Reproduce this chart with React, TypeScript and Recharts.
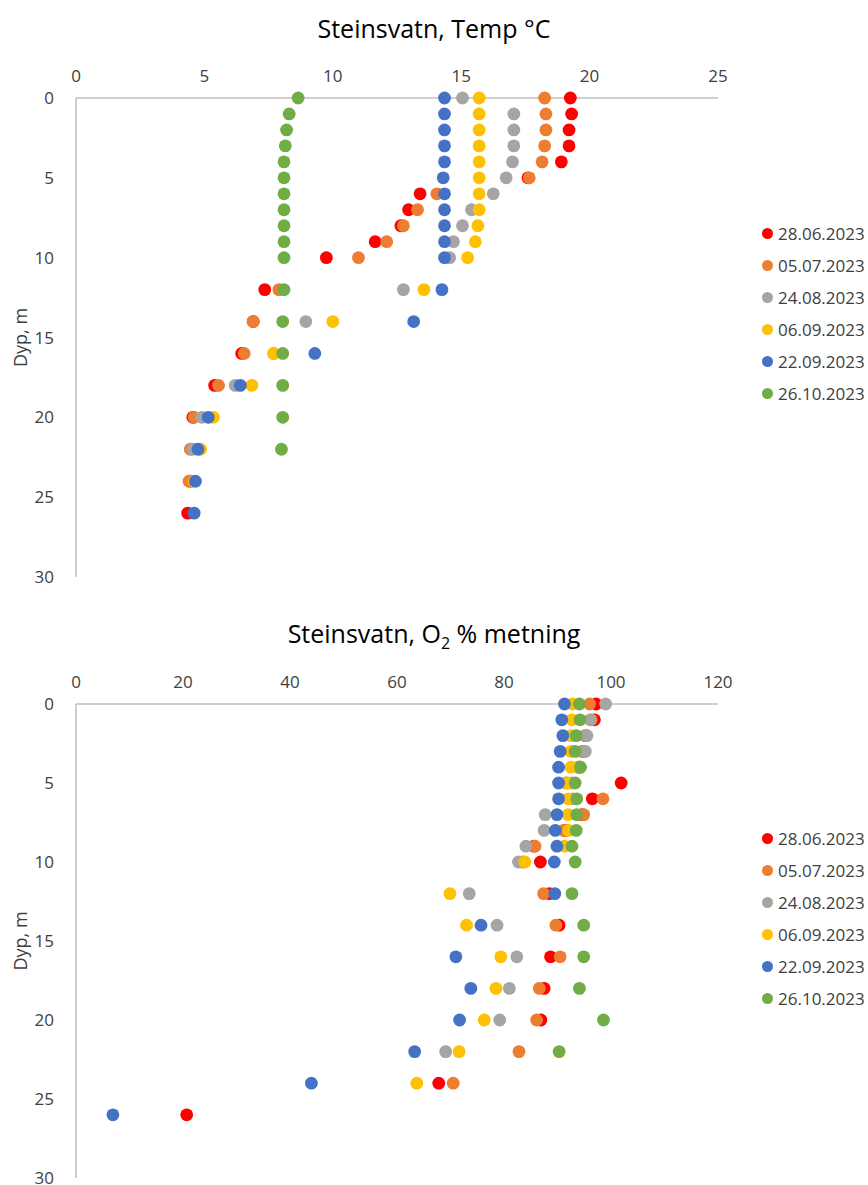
import { ScatterChart, Scatter, XAxis, YAxis, Legend } from 'recharts'

// depths (m) shared by all profiles
const depths = [0, 1, 2, 3, 4, 5, 6, 7, 8, 9, 10, 12, 14, 16, 18, 20, 22, 24, 26]

const dates = ['28.06.2023', '05.07.2023', '24.08.2023', '06.09.2023', '22.09.2023', '26.10.2023']
const colors = ['#FF0000', '#ED7D31', '#A5A5A5', '#FFC000', '#4472C4', '#70AD47']

// temperature, °C
const temp2806 = [19.25, 19.3, 19.2, 19.2, 18.9, 17.6, 13.4, 12.95, 12.65, 11.65, 9.75, 7.35, 6.9, 6.45, 5.4, 4.55, null, 4.45, 4.35]
const temp0507 = [18.25, 18.3, 18.3, 18.25, 18.15, 17.65, 14.05, 13.3, 12.75, 12.1, 11.0, 7.9, 6.9, 6.55, 5.55, 4.6, 4.45, 4.4, null]
const temp2408 = [15.05, 17.05, 17.05, 17.05, 17.0, 16.75, 16.25, 15.4, 15.05, 14.7, 14.55, 12.75, 8.95, 7.7, 6.2, 4.9, 4.55, null, null]
const temp0609 = [15.7, 15.7, 15.7, 15.7, 15.7, 15.7, 15.7, 15.7, 15.65, 15.55, 15.25, 13.55, 10.0, 7.7, 6.85, 5.35, 4.85, 4.6, null]
const temp2209 = [14.35, 14.35, 14.35, 14.35, 14.35, 14.3, 14.35, 14.35, 14.35, 14.35, 14.35, 14.25, 13.15, 9.3, 6.4, 5.15, 4.75, 4.65, 4.6]
const temp2610 = [8.65, 8.3, 8.2, 8.15, 8.1, 8.1, 8.1, 8.1, 8.1, 8.1, 8.1, 8.1, 8.05, 8.05, 8.05, 8.05, 8.0, null, null]

// oxygen saturation, %
const o2_2806 = [97.2, 96.9, 95.3, 94.8, 94.0, 101.9, 96.5, 94.6, 91.4, 85.6, 86.8, 88.5, 90.3, 88.7, 87.5, 86.9, null, 67.8, 20.7]
const o2_0507 = [96.0, 96.3, 95.2, 94.8, 94.0, 91.6, 98.5, 94.9, 91.2, 85.8, 83.5, 87.4, 89.7, 90.5, 86.6, 86.1, 82.8, 70.5, null]
const o2_2408 = [99.0, 96.1, 95.5, 95.2, 94.2, 92.6, 92.8, 87.7, 87.5, 84.1, 82.7, 73.5, 78.7, 82.4, 81.0, 79.2, 69.1, null, null]
const o2_0609 = [92.8, 92.7, 92.5, 92.5, 92.5, 91.9, 92.0, 92.0, 92.1, 91.3, 83.9, 69.9, 73.0, 79.4, 78.5, 76.3, 71.6, 63.7, null]
const o2_2209 = [91.3, 90.8, 91.0, 90.5, 90.2, 90.2, 90.2, 89.9, 89.6, 89.9, 89.4, 89.5, 75.7, 71.0, 73.8, 71.7, 63.3, 44.0, 6.9]
const o2_2610 = [94.1, 94.2, 93.5, 93.3, 94.3, 93.3, 93.6, 93.6, 93.5, 92.7, 93.3, 92.7, 94.9, 94.9, 94.1, 98.6, 90.3, null, null]

const tempTicks = [0, 5, 10, 15, 20, 25]
const o2Ticks = [0, 20, 40, 60, 80, 100, 120]
const depthTicks = [0, 5, 10, 15, 20, 25, 30]

const tempSeries = [temp2806, temp0507, temp2408, temp0609, temp2209, temp2610]
const o2Series = [o2_2806, o2_0507, o2_2408, o2_0609, o2_2209, o2_2610]

const FONT = '"Open Sans", sans-serif'

const toPoints = (vals) =>
  depths.map((d, i) => ({ depth: d, value: vals[i] })).filter(p => p.value != null)

const dot = (color) => (props) => <circle cx={props.cx} cy={props.cy} r={6.4} fill={color} />

// legend keeps the series order (recharts sorts by name otherwise)
const renderLegend = () => (
  <div style={{ fontFamily: FONT }}>
    {dates.map((d, i) => (
      <div key={d} style={{ display: 'flex', alignItems: 'center', height: 32 }}>
        <span style={{ width: 11, height: 11, borderRadius: '50%', background: colors[i], marginRight: 5, flex: 'none' }} />
        <span style={{ fontSize: 17, color: '#404040', whiteSpace: 'nowrap' }}>{d}</span>
      </div>
    ))}
  </div>
)

const depthLabel = ({ viewBox }) => {
  const x = viewBox.x + 10
  const y = viewBox.y + viewBox.height / 2
  return (
    <text x={x} y={y} transform={`rotate(-90, ${x}, ${y})`} textAnchor="middle" dominantBaseline="central"
      fontSize={18} fill="#404040" fontFamily={FONT}>
      Dyp, m
    </text>
  )
}

function Profile({ series, max, ticks, height, marginTop, marginBottom, legendTop }) {
  const tickStyle = { fontSize: 17, fill: '#404040', fontFamily: FONT }
  return (
    <ScatterChart width={868} height={height} margin={{ top: marginTop, right: 150, bottom: marginBottom, left: 10 }}>
      <XAxis type="number" dataKey="value" orientation="top" domain={[0, max]} ticks={ticks} interval={0}
        height={30} tickSize={0} tickMargin={16} tickLine={false} tick={tickStyle}
        axisLine={{ stroke: '#BFBFBF', strokeWidth: 1.5 }} />
      <YAxis type="number" dataKey="depth" reversed domain={[0, 30]} ticks={depthTicks} interval={0}
        width={66} tickSize={0} tickMargin={22} tickLine={false} tick={tickStyle}
        axisLine={{ stroke: '#BFBFBF', strokeWidth: 1.5 }} label={{ content: depthLabel }} />
      <Legend layout="vertical" align="center" verticalAlign="middle" content={renderLegend}
        wrapperStyle={{ left: 762, top: legendTop, width: 106 }} />
      {series.map((vals, i) => (
        <Scatter key={dates[i]} name={dates[i]} data={toPoints(vals)} fill={colors[i]}
          shape={dot(colors[i])} isAnimationActive={false} />
      ))}
    </ScatterChart>
  )
}

export default function App() {
  const titleStyle = {
    position: 'absolute', left: 0, width: 868, textAlign: 'center',
    fontSize: 25, lineHeight: '25px', color: '#000', fontFamily: FONT,
  } as const
  return (
    <div style={{ position: 'absolute', left: 0, top: 0, width: 868, height: 1185, background: '#fff' }}>
      <div style={{ ...titleStyle, top: 16 }}>Steinsvatn, Temp °C</div>
      <div style={{ position: 'absolute', left: 0, top: 0 }}>
        <Profile series={tempSeries} max={25} ticks={tempTicks} height={600}
          marginTop={68} marginBottom={23} legendTop={217} />
      </div>
      <div style={{ ...titleStyle, top: 621 }}>
        Steinsvatn, O<sub style={{ fontSize: 16, lineHeight: 0 }}>2</sub> % metning
      </div>
      <div style={{ position: 'absolute', left: 0, top: 600 }}>
        <Profile series={o2Series} max={120} ticks={o2Ticks} height={585}
          marginTop={74} marginBottom={7} legendTop={222} />
      </div>
    </div>
  )
}
